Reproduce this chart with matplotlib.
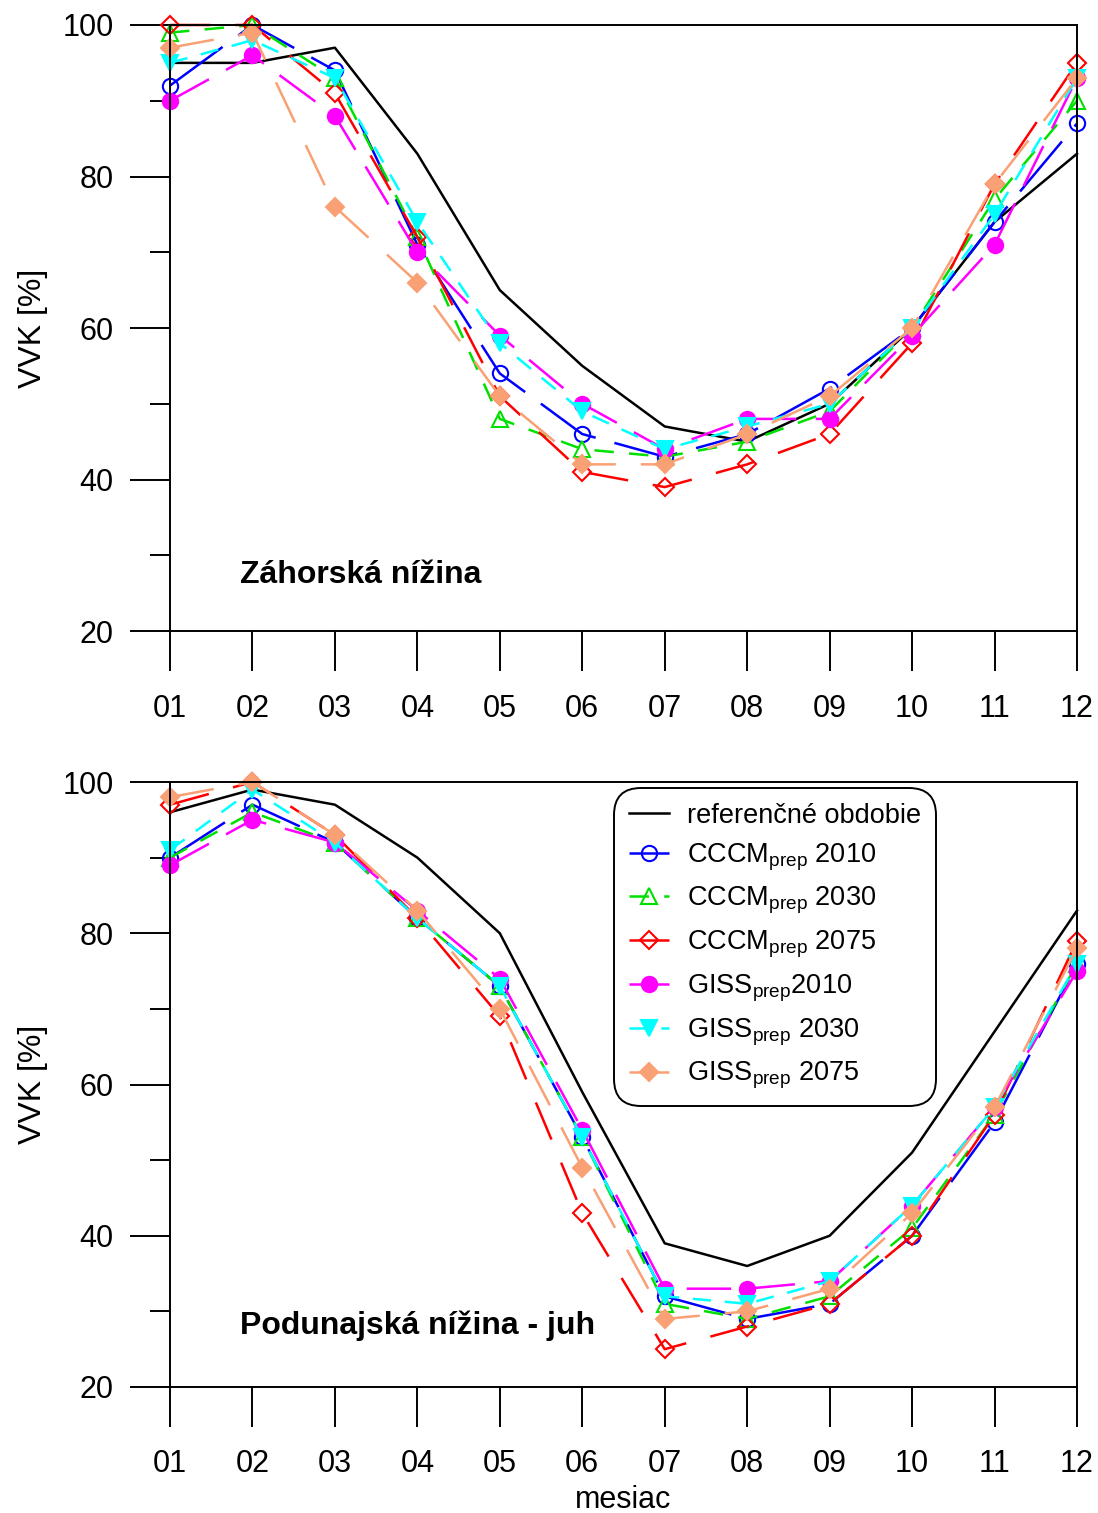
import matplotlib
matplotlib.use("Agg")
import matplotlib.pyplot as plt
from matplotlib.ticker import FixedLocator

plt.rcParams['font.family'] = ['Liberation Sans', 'DejaVu Sans']
plt.rcParams['mathtext.fontset'] = 'custom'
plt.rcParams['mathtext.rm'] = 'Liberation Sans'
plt.rcParams['lines.scale_dashes'] = False

# ---------------------------------------------------------------- data
MONTHS = ['01', '02', '03', '04', '05', '06', '07', '08', '09', '10', '11', '12']

# Záhorská nížina
ZAH_REF = [95, 95, 97, 83, 65, 55, 47, 45, 50, 60, 74, 83]
ZAH_CCCM_2010 = [92, 100, 94, 71, 54, 46, 43, 46, 52, 60, 74, 87]
ZAH_CCCM_2030 = [99, 100, 93, 72, 48, 44, 43, 45, 49, 60, 77, 90]
ZAH_CCCM_2075 = [100, 100, 91, 72, 51, 41, 39, 42, 46, 58, 79, 95]
ZAH_GISS_2010 = [90, 96, 88, 70, 59, 50, 44, 48, 48, 59, 71, 93]
ZAH_GISS_2030 = [95, 98, 93, 74, 58, 49, 44, 47, 50, 60, 75, 93]
ZAH_GISS_2075 = [97, 99, 76, 66, 51, 42, 42, 46, 51, 60, 79, 93]

# Podunajská nížina - juh
POD_REF = [96, 99, 97, 90, 80, 59, 39, 36, 40, 51, 67, 83]
POD_CCCM_2010 = [90, 97, 92, 82, 73, 53, 32, 29, 31, 40, 55, 76]
POD_CCCM_2030 = [90, 96, 92, 82, 73, 53, 31, 29, 32, 41, 56, 76]
POD_CCCM_2075 = [97, 100, 93, 82, 69, 43, 25, 28, 31, 40, 56, 79]
POD_GISS_2010 = [89, 95, 92, 83, 74, 54, 33, 33, 34, 44, 57, 75]
POD_GISS_2030 = [91, 99, 92, 82, 73, 53, 32, 31, 34, 44, 57, 76]
POD_GISS_2075 = [98, 100, 93, 83, 70, 49, 29, 30, 33, 43, 57, 78]

LABELS = [
    'referenčné obdobie',
    r'CCCM$_\mathregular{prep}$ 2010',
    r'CCCM$_\mathregular{prep}$ 2030',
    r'CCCM$_\mathregular{prep}$ 2075',
    r'GISS$_\mathregular{prep}$2010',
    r'GISS$_\mathregular{prep}$ 2030',
    r'GISS$_\mathregular{prep}$ 2075',
]

# ---------------------------------------------------------------- styles
# (color, marker, filled, dashes in points)
STYLES = [
    ('black', None, False, None),
    ('#0000ff', 'o', False, (47, 14)),
    ('#00e000', '^', False, (14, 11)),
    ('#ff0000', 'D', False, (29, 18)),
    ('#ff00ff', 'o', True, (32, 14)),
    ('#00ffff', 'v', True, (13, 10)),
    ('#f9a074', 'D', True, (32, 18)),
]
MSIZE = {'o': 11, '^': 11, 'D': 9, 'v': 11}

W, H = 1098, 1513
fig = plt.figure(figsize=(W / 100, H / 100), dpi=100)


def panel(rect, series, name, name_y, show_legend=False, xlabel=None):
    ax = fig.add_axes(rect)
    x = list(range(1, 13))
    for vals, (col, mk, filled, dsh), lab in zip(series, STYLES, LABELS):
        kw = dict(color=col, lw=1.8, label=lab, clip_on=False)
        if mk is not None:
            kw.update(marker=mk, markersize=MSIZE[mk], markeredgewidth=1.5,
                      markeredgecolor=col,
                      markerfacecolor=col if filled else 'none')
        line, = ax.plot(x, vals, **kw)
        if dsh is not None:
            line.set_dashes(dsh)
    ax.set_xlim(1, 12)
    ax.set_ylim(20, 100)
    ax.xaxis.set_major_locator(FixedLocator(x))
    ax.set_xticklabels(MONTHS)
    ax.yaxis.set_major_locator(FixedLocator([20, 40, 60, 80, 100]))
    ax.yaxis.set_minor_locator(FixedLocator([30, 50, 70, 90]))
    ax.tick_params(axis='both', which='major', direction='out', length=29,
                   width=1.4, labelsize=22, color='black')
    ax.tick_params(axis='y', which='minor', direction='out', length=14.5,
                   width=1.4)
    ax.tick_params(axis='x', pad=16)
    ax.tick_params(axis='y', pad=11.5)
    for s in ax.spines.values():
        s.set_linewidth(1.4)
    ax.set_ylabel('VVK [%]', fontsize=23)
    ax.yaxis.set_label_coords(-0.135, 0.5)
    ax.text(1.85, name_y, name, fontsize=23, fontweight='bold',
            ha='left', va='center')
    if xlabel:
        ax.set_xlabel(xlabel, fontsize=22, labelpad=4)
    if show_legend:
        leg = ax.legend(loc='upper left', bbox_to_anchor=(0.4895, 0.99),
                        fontsize=19.5, numpoints=1, handlelength=1.5,
                        handletextpad=0.65, labelspacing=0.46,
                        borderpad=0.55, borderaxespad=0, framealpha=1,
                        fancybox=True)
        fr = leg.get_frame()
        fr.set_edgecolor('black')
        fr.set_linewidth(1.4)
        fr.set_boxstyle('round', pad=0, rounding_size=1.0)
    return ax


top = panel([170 / W, 1 - 631 / H, 907 / W, 606 / H],
            [ZAH_REF, ZAH_CCCM_2010, ZAH_CCCM_2030, ZAH_CCCM_2075,
             ZAH_GISS_2010, ZAH_GISS_2030, ZAH_GISS_2075],
            'Záhorská nížina', 27.4)
bot = panel([170 / W, 1 - 1387 / H, 907 / W, 605 / H],
            [POD_REF, POD_CCCM_2010, POD_CCCM_2030, POD_CCCM_2075,
             POD_GISS_2010, POD_GISS_2030, POD_GISS_2075],
            'Podunajská nížina - juh', 28.1, show_legend=True, xlabel='mesiac')

fig.savefig('out.png', dpi=100)
